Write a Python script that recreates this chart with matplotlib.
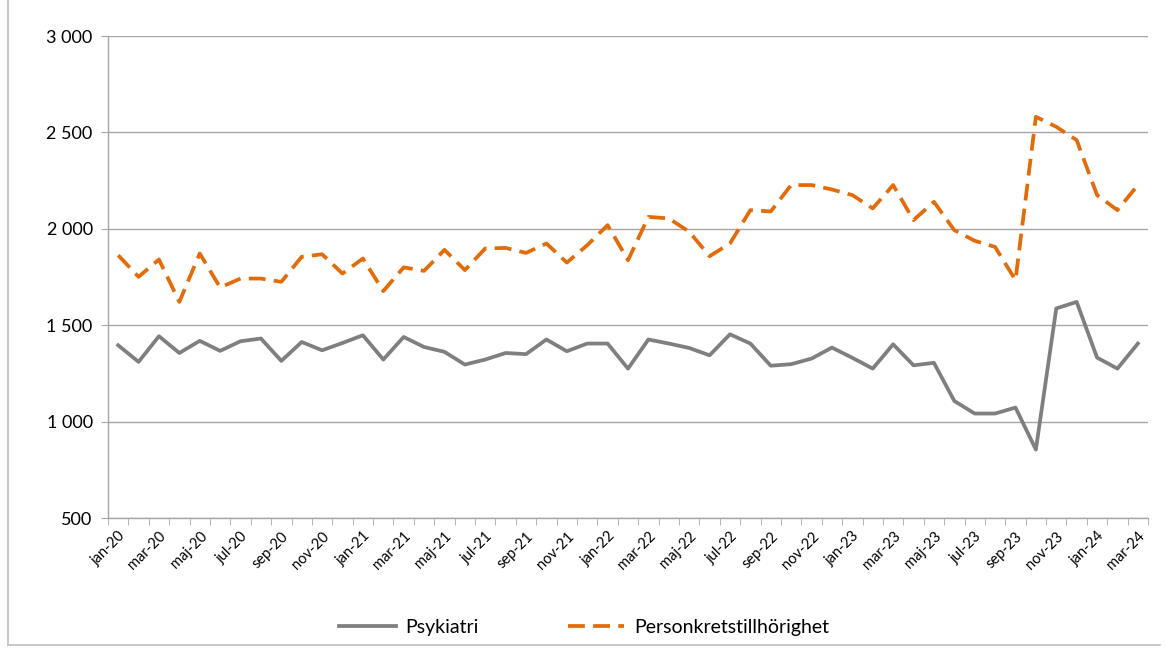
import numpy as np
import matplotlib
matplotlib.use("Agg")
import matplotlib.pyplot as plt
from matplotlib.ticker import FuncFormatter, MultipleLocator
from matplotlib.patches import Rectangle

plt.rcParams['font.family'] = ['Lato', 'DejaVu Sans']

months = ['jan', 'feb', 'mar', 'apr', 'maj', 'jun', 'jul', 'aug', 'sep', 'okt', 'nov', 'dec']
labels = [m + '-' + y for y in ['20', '21', '22', '23'] for m in months] + ['jan-24', 'feb-24', 'mar-24']

psykiatri = [1396, 1310, 1443, 1356, 1419, 1367, 1417, 1431, 1315, 1413, 1370, 1408,
             1448, 1322, 1439, 1387, 1362, 1296, 1322, 1356, 1350, 1426, 1365, 1405,
             1405, 1275, 1426, 1405, 1382, 1344, 1453, 1405, 1290, 1298, 1327, 1384,
             1331, 1275, 1401, 1292, 1305, 1107, 1042, 1042, 1073, 855, 1587, 1621,
             1332, 1275, 1405]

personkrets = [1863, 1751, 1841, 1621, 1872, 1696, 1742, 1742, 1725, 1855, 1868, 1768,
               1846, 1677, 1800, 1782, 1891, 1786, 1898, 1901, 1875, 1924, 1825, 1915,
               2019, 1837, 2062, 2054, 1985, 1858, 1924, 2097, 2090, 2227, 2227, 2204,
               2175, 2106, 2227, 2045, 2140, 1993, 1938, 1906, 1734, 2581, 2529, 2460,
               2175, 2097, 2227]

x = np.arange(len(labels))

fig = plt.figure(figsize=(11.66, 6.49), dpi=100)
ax = fig.add_axes([0.0926, 0.2018, 0.892, 0.7427])

# outer frame (left and bottom edge visible in the original)
fig.add_artist(plt.Line2D([0.007, 0.007], [0.006, 1.0], transform=fig.transFigure,
                          color='#bfbfbf', linewidth=1.2))
fig.add_artist(plt.Line2D([0.007, 0.995], [0.006, 0.006], transform=fig.transFigure,
                          color='#bfbfbf', linewidth=1.2))

ax.plot(x, psykiatri, color='#7f7f7f', linewidth=2.7, label='Psykiatri')
ax.plot(x, personkrets, color='#e36c0a', linewidth=2.7, linestyle=(0, (4.5, 2.2)),
        label='Personkretstillhörighet')

ax.set_ylim(500, 3000)
ax.set_xlim(-0.5, len(labels) - 0.5)
ax.yaxis.set_major_locator(MultipleLocator(500))
ax.yaxis.set_major_formatter(FuncFormatter(lambda v, p: f'{int(v):,}'.replace(',', ' ')))
ax.grid(axis='y', color='#a6a6a6', linewidth=1.0)
ax.set_axisbelow(True)

ax.set_xticks(x[::2])
ax.set_xticklabels(labels[::2], rotation=45, ha='right', rotation_mode='anchor', fontsize=10.5)
ax.set_xticks(np.arange(-0.5, len(labels)), minor=True)
ax.tick_params(axis='x', which='major', length=0, pad=8)
ax.tick_params(axis='x', which='minor', length=5, color='#a6a6a6')
ax.tick_params(axis='y', length=5, color='#a6a6a6', labelsize=13, pad=6)

for s in ['top', 'right']:
    ax.spines[s].set_visible(False)
for s in ['left', 'bottom']:
    ax.spines[s].set_color('#a6a6a6')
    ax.spines[s].set_linewidth(1.0)

fig.legend(loc='center', bbox_to_anchor=(0.501, 0.033), ncol=2, frameon=False,
           fontsize=14, handlelength=2.9, columnspacing=4.6, handletextpad=0.5)

fig.savefig('out.png', dpi=100)
